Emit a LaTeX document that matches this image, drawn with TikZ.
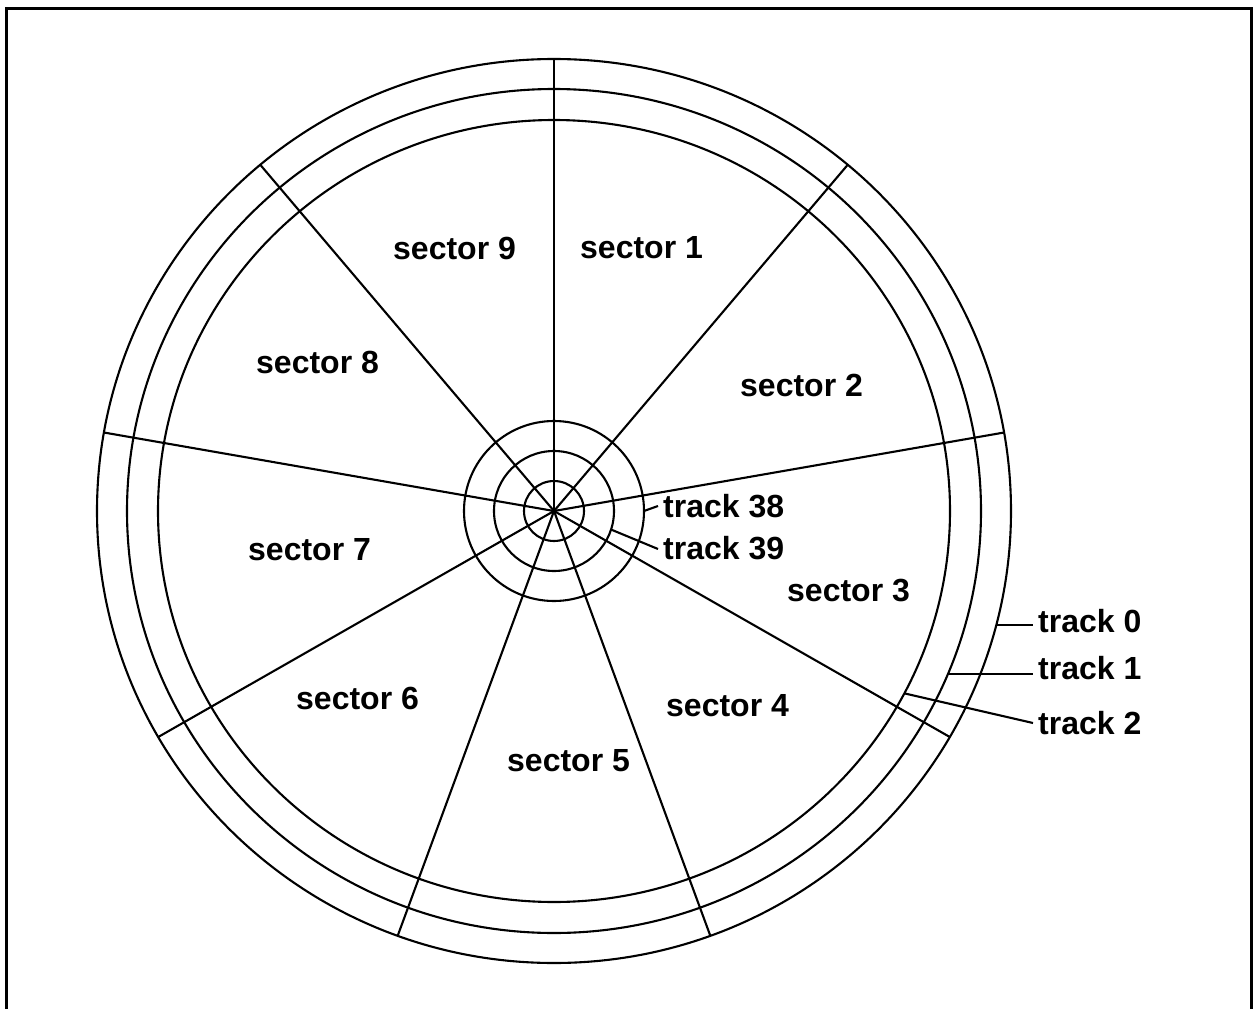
\documentclass[tikz,border=0pt]{standalone}
\usepackage{fontspec}
\setmainfont{Liberation Sans}
\usetikzlibrary{calc}
\begin{document}
\begin{tikzpicture}[x=1pt,y=-1pt,
  ring/.style={line width=2.1pt},
  spoke/.style={line width=2.1pt},
  leader/.style={line width=2.1pt},
  lbl/.style={font=\fontsize{32}{38}\selectfont\bfseries, inner sep=0pt, anchor=west},
  tlbl/.style={font=\fontsize{32}{38}\selectfont\bfseries, inner xsep=5pt, inner ysep=0pt, anchor=west}]
\useasboundingbox (0,0) rectangle (1259,1009);
\draw[line width=3pt] (6,8) rectangle (1251,1030);
\coordinate (c) at (554,511);
% tracks (outer rings)
\draw[ring] (c) ellipse [x radius=457pt, y radius=452pt];
\draw[ring] (c) ellipse [x radius=427pt, y radius=422pt];
\draw[ring] (c) ellipse [x radius=396pt, y radius=391pt];
% inner tracks
\draw[ring] (c) circle [radius=30pt];
\draw[ring] (c) circle [radius=60pt];
\draw[ring] (c) circle [radius=90pt];
% spokes
\foreach \a/\n in {90/s1,50/s2,10/s3,-30/s4,-70/s5,-110/s6,-150/s7,170/s8,130/s9}{
  \coordinate (\n) at ($(c)+({457*cos(\a)},{-452*sin(\a)})$);
  \draw[spoke] (c) -- (\n);
}
% sector labels
\node[lbl] (l9) at (393,248) {sector 9};
\node[lbl] (l1) at (580,248) {sector 1};
\node[lbl] (l8) at (256,362) {sector 8};
\node[lbl] (l2) at (740,385) {sector 2};
\node[lbl] (l7) at (248,550) {sector 7};
\node[lbl] (l3) at (787,591) {sector 3};
\node[lbl] (l6) at (296,698) {sector 6};
\node[lbl] (l4) at (666,706) {sector 4};
\node[lbl] (l5) at (507,761) {sector 5};
% track labels
\node[tlbl] (t38) at (658,506) {track 38};
\node[tlbl] (t39) at (658,548) {track 39};
\node[tlbl] (t0) at (1033,621) {track 0};
\node[tlbl] (t1) at (1033,668) {track 1};
\node[tlbl] (t2) at (1033,723) {track 2};
% leader start points on the tracks
\coordinate (p38) at ($(c)+(90,0)$);
\coordinate (p39) at ($(c)+({60*cos(-18)},{-60*sin(-18)})$);
\coordinate (p0) at ($(c)+({457*cos(-14.6)},{-452*sin(-14.6)})$);
\coordinate (p1) at ($(c)+({427*cos(-22.7)},{-422*sin(-22.7)})$);
\coordinate (p2) at ($(c)+({396*cos(-27.8)},{-391*sin(-27.8)})$);
\draw[leader] (p38) -- (t38.west);
\draw[leader] (p39) -- ([yshift=-1pt]t39.west);
\draw[leader] (p0) -- (p0 -| t0.west);
\draw[leader] (p1) -- (p1 -| t1.west);
\draw[leader] (p2) -- (t2.west);
\end{tikzpicture}
\end{document}
